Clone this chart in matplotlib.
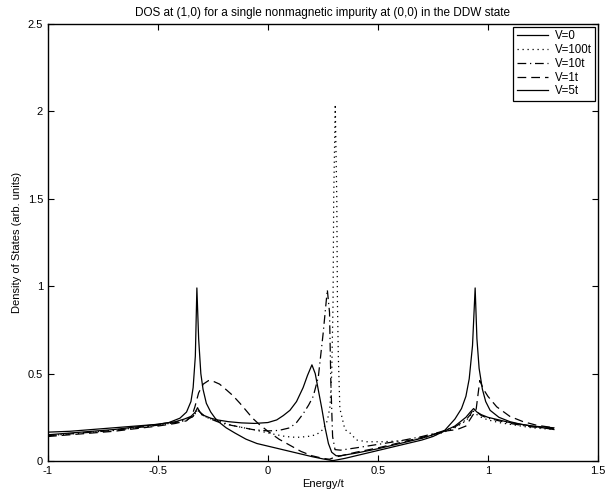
import matplotlib
matplotlib.use("Agg")
import matplotlib.pyplot as plt
from matplotlib.ticker import FormatStrFormatter

# ---- data ----
# V=0 (clean DDW, solid)
x_v0 = [-1, -0.9, -0.8, -0.7, -0.6, -0.5, -0.45, -0.4, -0.37, -0.35, -0.34, -0.33, -0.323,
        -0.315, -0.305, -0.295, -0.28, -0.26, -0.24, -0.22, -0.19, -0.15, -0.1, -0.05, 0,
        0.05, 0.1, 0.15, 0.2, 0.25, 0.29, 0.3, 0.35, 0.4, 0.45, 0.5, 0.6, 0.7, 0.75, 0.8,
        0.85, 0.88, 0.9, 0.915, 0.93, 0.942, 0.95, 0.96, 0.975, 0.99, 1.01, 1.05, 1.1, 1.15,
        1.2, 1.25, 1.3]
y_v0 = [0.15, 0.16, 0.17, 0.18, 0.195, 0.21, 0.22, 0.245, 0.28, 0.34, 0.42, 0.6, 0.99,
        0.7, 0.5, 0.41, 0.33, 0.28, 0.245, 0.22, 0.19, 0.16, 0.125, 0.1, 0.085,
        0.07, 0.055, 0.04, 0.025, 0.012, 0.003, 0.003, 0.015, 0.03, 0.045, 0.06, 0.09, 0.12, 0.14, 0.17,
        0.24, 0.3, 0.37, 0.47, 0.66, 0.99, 0.7, 0.53, 0.41, 0.34, 0.29, 0.25, 0.225, 0.21,
        0.2, 0.19, 0.18]

# V=100t (dotted)
x_v100 = [-1, -0.9, -0.8, -0.7, -0.6, -0.5, -0.42, -0.37, -0.34, -0.32, -0.3, -0.27, -0.23,
          -0.18, -0.13, -0.05, 0.02, 0.08, 0.13, 0.18, 0.22, 0.25, 0.27, 0.282, 0.29, 0.296,
          0.299, 0.306, 0.313, 0.316, 0.32, 0.327, 0.35, 0.373, 0.403, 0.45, 0.52, 0.6, 0.68,
          0.75, 0.8, 0.85, 0.9, 0.92, 0.935, 0.95, 0.97, 1.0, 1.05, 1.1, 1.15, 1.2, 1.25, 1.3]
y_v100 = [0.145, 0.155, 0.165, 0.175, 0.19, 0.205, 0.22, 0.235, 0.255, 0.29, 0.265, 0.245, 0.23,
          0.21, 0.195, 0.175, 0.155, 0.14, 0.135, 0.14, 0.15, 0.18, 0.23, 0.31, 0.5, 0.9,
          1.5, 2.04, 1.5, 0.9, 0.6, 0.3, 0.18, 0.16, 0.12, 0.11, 0.11, 0.115, 0.125,
          0.145, 0.165, 0.19, 0.23, 0.26, 0.285, 0.265, 0.25, 0.235, 0.22, 0.21, 0.2, 0.19, 0.185, 0.18]

# V=10t (dash-dot)
x_v10 = [-1, -0.9, -0.8, -0.7, -0.6, -0.5, -0.42, -0.37, -0.34, -0.32, -0.3, -0.27, -0.23,
         -0.19, -0.13, -0.07, 0.0, 0.05, 0.1, 0.13, 0.16, 0.185, 0.206, 0.229, 0.251, 0.27,
         0.28, 0.286, 0.294, 0.305, 0.33, 0.4, 0.5, 0.6, 0.7, 0.78, 0.85, 0.9, 0.92, 0.935,
         0.95, 0.97, 1.0, 1.05, 1.1, 1.15, 1.2, 1.25, 1.3]
y_v10 = [0.145, 0.155, 0.165, 0.175, 0.19, 0.205, 0.22, 0.235, 0.255, 0.3, 0.265, 0.245, 0.225,
         0.21, 0.195, 0.18, 0.172, 0.175, 0.19, 0.22, 0.27, 0.32, 0.37, 0.48, 0.73, 0.98,
         0.85, 0.45, 0.14, 0.065, 0.062, 0.075, 0.095, 0.115, 0.14, 0.165, 0.195, 0.235, 0.265, 0.3,
         0.28, 0.26, 0.245, 0.23, 0.215, 0.205, 0.195, 0.19, 0.185]

# V=1t (dashed)
x_v1 = [-1, -0.9, -0.8, -0.7, -0.6, -0.5, -0.42, -0.37, -0.345, -0.332, -0.315, -0.294, -0.27,
        -0.256, -0.22, -0.188, -0.16, -0.127, -0.1, -0.07, -0.04, 0.0, 0.05, 0.1, 0.15, 0.2,
        0.25, 0.28, 0.3, 0.35, 0.4, 0.5, 0.6, 0.7, 0.8, 0.86, 0.9, 0.93, 0.946, 0.963, 0.98,
        1.0, 1.04, 1.1, 1.16, 1.22, 1.3]
y_v1 = [0.14, 0.15, 0.16, 0.17, 0.185, 0.2, 0.215, 0.23, 0.26, 0.31, 0.39, 0.44, 0.46,
        0.46, 0.44, 0.406, 0.375, 0.33, 0.29, 0.245, 0.21, 0.17, 0.125, 0.09, 0.055, 0.03,
        0.015, 0.01, 0.02, 0.035, 0.05, 0.075, 0.105, 0.135, 0.17, 0.18, 0.2, 0.26, 0.29, 0.46, 0.41,
        0.37, 0.31, 0.255, 0.225, 0.205, 0.19]

# V=5t (solid)
x_v5 = [-1, -0.9, -0.8, -0.7, -0.6, -0.5, -0.42, -0.38, -0.35, -0.33, -0.32, -0.31, -0.29,
        -0.26, -0.23, -0.18, -0.12, -0.06, 0, 0.04, 0.07, 0.1, 0.13, 0.16, 0.18, 0.2, 0.215,
        0.23, 0.245, 0.26, 0.275, 0.29, 0.31, 0.33, 0.4, 0.5, 0.6, 0.7, 0.8, 0.85, 0.9, 0.92,
        0.935, 0.95, 0.97, 1.0, 1.05, 1.1, 1.15, 1.2, 1.25, 1.3]
y_v5 = [0.165, 0.17, 0.18, 0.19, 0.2, 0.21, 0.225, 0.24, 0.255, 0.28, 0.305, 0.28, 0.26,
        0.245, 0.235, 0.225, 0.218, 0.215, 0.22, 0.235, 0.26, 0.29, 0.34, 0.42, 0.49, 0.55, 0.5,
        0.4, 0.3, 0.19, 0.1, 0.05, 0.03, 0.03, 0.045, 0.07, 0.1, 0.13, 0.17, 0.2, 0.25, 0.28,
        0.3, 0.28, 0.265, 0.25, 0.235, 0.22, 0.21, 0.2, 0.195, 0.19]

labels = ["V=0", "V=100t", "V=10t", "V=1t", "V=5t"]

plt.rcParams['font.family'] = ['Liberation Sans', 'DejaVu Sans']

fig = plt.figure(figsize=(6.07, 4.95), dpi=100)
ax = fig.add_axes([0.079, 0.0687, 0.906, 0.8828])

lw = 0.9
ax.plot(x_v0, y_v0, color='k', linestyle='-', linewidth=lw, label=labels[0])
ax.plot(x_v100, y_v100, color='k', linestyle=(0, (1, 3)), linewidth=lw, label=labels[1])
ax.plot(x_v10, y_v10, color='k', linestyle=(0, (7, 3, 1, 3)), linewidth=lw, label=labels[2])
ax.plot(x_v1, y_v1, color='k', linestyle=(0, (7, 4)), linewidth=lw, label=labels[3])
ax.plot(x_v5, y_v5, color='k', linestyle='-', linewidth=lw, label=labels[4])

ax.set_xlim(-1, 1.5)
ax.set_ylim(0, 2.5)
ax.set_xticks([-1, -0.5, 0, 0.5, 1, 1.5])
ax.set_yticks([0, 0.5, 1, 1.5, 2, 2.5])
ax.xaxis.set_major_formatter(FormatStrFormatter('%g'))
ax.yaxis.set_major_formatter(FormatStrFormatter('%g'))
ax.tick_params(direction='in', top=True, right=True, length=4, width=0.8, labelsize=8)
for s in ax.spines.values():
    s.set_linewidth(1.0)

ax.set_xlabel('Energy/t', fontsize=8, labelpad=2)
ax.set_ylabel('Density of States (arb. units)', fontsize=8, labelpad=4)
ax.set_title('DOS at (1,0) for a single nonmagnetic impurity at (0,0) in the DDW state',
             fontsize=8.5, pad=6)

leg = ax.legend(loc='upper right', fontsize=8.3, handlelength=2.7, handletextpad=0.6,
                borderpad=0.3, labelspacing=0.15, fancybox=False, framealpha=1,
                edgecolor='k', borderaxespad=0.25)
leg.get_frame().set_linewidth(0.9)

fig.savefig('out.png', dpi=100)
